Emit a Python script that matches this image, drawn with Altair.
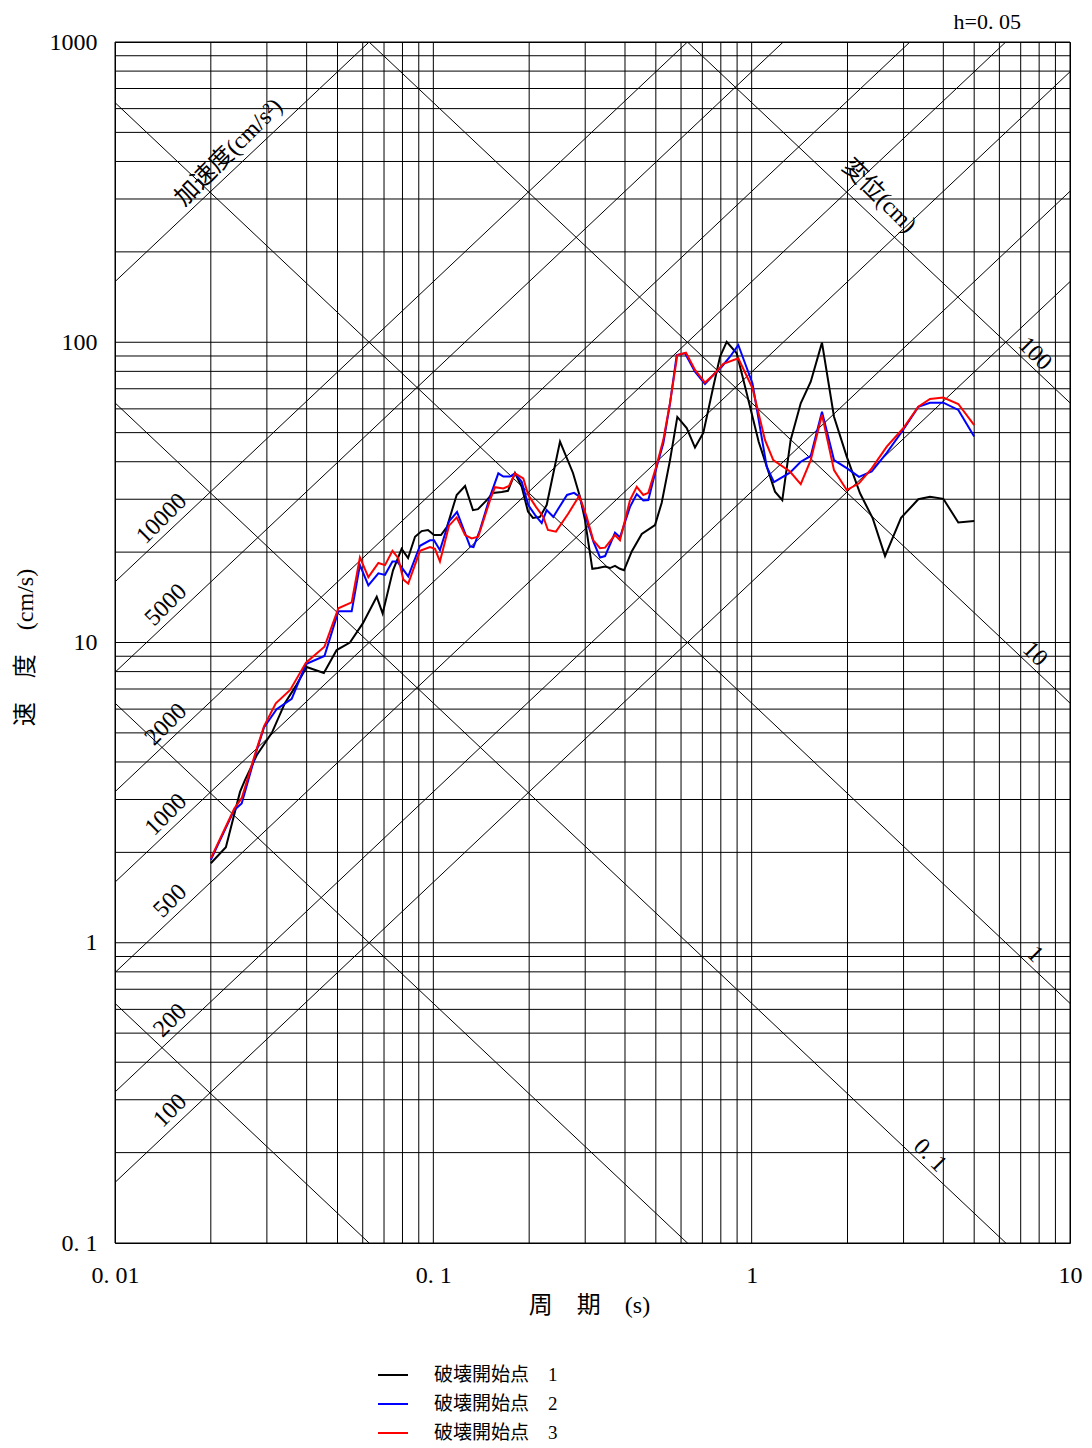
import math
import altair as alt
import pandas as pd

TWO_PI = 2 * math.pi
FONT = "Liberation Serif, Noto Sans CJK JP"

# ---------------- data ----------------
series_names = ["破壊開始点　1", "破壊開始点　2", "破壊開始点　3"]
series_colors = ["#000000", "#0000ff", "#ff0000"]

period_1 = [0.0200, 0.0223, 0.0247, 0.0256, 0.0279, 0.0311, 0.0342, 0.0370, 0.0400, 0.0453,
            0.0497, 0.0547, 0.0601, 0.0664, 0.0693, 0.0747, 0.0795, 0.0833, 0.0876, 0.0919,
            0.0962, 0.1005, 0.1057, 0.1104, 0.1184, 0.1258, 0.1332, 0.1381, 0.1472, 0.1539,
            0.1640, 0.1716, 0.1805, 0.1895, 0.1983, 0.2056, 0.2163, 0.2270, 0.2500, 0.2746,
            0.2888, 0.2995, 0.3158, 0.3291, 0.3463, 0.3589, 0.3721, 0.3858, 0.3972, 0.4200,
            0.4516, 0.4970, 0.5217, 0.5540, 0.5841, 0.6251, 0.6637, 0.7048, 0.7577, 0.7954,
            0.8348, 0.8975, 0.9647, 1.052, 1.184, 1.248, 1.326, 1.426, 1.533, 1.663,
            1.814, 1.989, 2.190, 2.401, 2.624, 2.946, 3.338, 3.633, 4.000, 4.458, 5.000]
velocity_1 = [1.84, 2.08, 3.18, 3.48, 4.22, 5.00, 6.29, 7.17, 8.29, 7.92,
              9.44, 10.0, 11.6, 14.2, 12.5, 17.4, 20.5, 19.1, 22.5, 23.5,
              23.7, 22.8, 22.8, 24.3, 31.0, 33.2, 27.6, 27.8, 29.8, 31.5,
              31.7, 32.0, 36.7, 33.0, 27.3, 26.0, 26.2, 28.7, 46.7, 36.7,
              30.6, 25.6, 17.6, 17.7, 17.9, 17.7, 18.0, 17.6, 17.4, 20.1,
              23.0, 24.6, 29.2, 40.5, 56.4, 51.8, 44.6, 49.9, 71.1, 89.5,
              100.4, 91.9, 67.6, 46.6, 31.8, 29.8, 47.3, 62.6, 73.9, 99.7,
              56.5, 41.6, 31.4, 25.9, 19.4, 26.0, 30.0, 30.6, 30.1, 25.1, 25.4]

period_2 = [0.0200, 0.0237, 0.0250, 0.0279, 0.0294, 0.0322, 0.0359, 0.0398, 0.0455, 0.0503,
            0.0554, 0.0588, 0.0625, 0.0672, 0.0705, 0.0744, 0.0771, 0.0834, 0.0908, 0.0976,
            0.1005, 0.1049, 0.1120, 0.1187, 0.1304, 0.1337, 0.1401, 0.1507, 0.1600, 0.1659,
            0.1741, 0.1805, 0.1895, 0.1987, 0.2086, 0.2190, 0.2270, 0.2381, 0.2500, 0.2630,
            0.2767, 0.2878, 0.3032, 0.3181, 0.3339, 0.3463, 0.3721, 0.3858, 0.4148, 0.4355,
            0.4567, 0.4735, 0.5031, 0.5278, 0.5540, 0.5815, 0.6175, 0.6637, 0.7135, 0.7577,
            0.8052, 0.8549, 0.9079, 1.006, 1.115, 1.175, 1.319, 1.426, 1.533, 1.663,
            1.814, 1.989, 2.174, 2.383, 2.657, 2.989, 3.338, 3.633, 4.000, 4.458, 5.000]
velocity_2 = [1.89, 2.77, 2.91, 4.39, 5.22, 6.00, 6.49, 8.48, 9.02, 12.7,
              12.7, 18.1, 15.5, 17.0, 16.8, 18.6, 18.6, 16.6, 21.0, 21.9,
              21.9, 20.3, 25.3, 27.2, 20.9, 20.8, 23.7, 30.6, 36.6, 35.7,
              35.7, 36.6, 34.3, 28.7, 26.6, 25.0, 27.6, 26.2, 28.5, 31.0,
              31.5, 30.6, 25.6, 21.7, 19.2, 19.4, 23.2, 22.4, 28.3, 31.2,
              29.7, 29.8, 38.5, 46.1, 62.6, 90.7, 91.9, 79.8, 72.6, 77.8,
              82.9, 89.5, 97.9, 72.9, 38.5, 34.2, 36.8, 40.0, 41.8, 58.7,
              40.5, 38.1, 35.6, 37.1, 42.8, 51.0, 60.9, 62.9, 62.9, 59.5, 48.5]

period_3 = [0.0200, 0.0237, 0.0250, 0.0279, 0.0294, 0.0320, 0.0355, 0.0398, 0.0455, 0.0503,
            0.0554, 0.0588, 0.0625, 0.0672, 0.0705, 0.0744, 0.0776, 0.0805, 0.0834, 0.0908,
            0.0976, 0.1012, 0.1049, 0.1120, 0.1184, 0.1258, 0.1319, 0.1384, 0.1507, 0.1562,
            0.1659, 0.1729, 0.1805, 0.1917, 0.1987, 0.2101, 0.2215, 0.2291, 0.2428, 0.2655,
            0.2874, 0.3032, 0.3181, 0.3339, 0.3463, 0.3721, 0.3858, 0.4148, 0.4355, 0.4567,
            0.4735, 0.5031, 0.5278, 0.5540, 0.5841, 0.6219, 0.6637, 0.7135, 0.7577, 0.8147,
            0.9079, 1.006, 1.101, 1.169, 1.319, 1.426, 1.533, 1.663, 1.814, 1.989,
            2.174, 2.383, 2.657, 2.993, 3.338, 3.633, 4.000, 4.458, 5.000]
velocity_3 = [1.91, 2.80, 3.03, 4.44, 5.27, 6.27, 6.95, 8.57, 9.68, 13.0,
              13.6, 19.2, 16.5, 18.4, 18.1, 20.2, 19.1, 16.2, 15.7, 20.2,
              20.8, 20.5, 18.6, 24.5, 26.1, 22.8, 22.2, 22.5, 29.8, 32.9,
              32.6, 33.2, 36.6, 35.2, 31.0, 28.3, 26.2, 23.7, 23.4, 26.9,
              30.8, 26.2, 21.9, 20.6, 20.7, 22.8, 21.9, 29.8, 33.0, 31.0,
              31.5, 39.0, 47.3, 62.8, 90.7, 92.3, 80.9, 73.4, 77.8, 84.7,
              88.4, 70.3, 47.3, 40.5, 37.1, 33.7, 40.5, 57.3, 37.5, 32.2,
              33.9, 38.0, 44.9, 51.7, 61.0, 64.7, 65.4, 62.3, 53.0]

# tripartite guide lines
accel_levels = [100, 200, 500, 1000, 2000, 5000, 10000, 100000]       # cm/s^2
accel_label_levels = [100, 200, 500, 1000, 2000, 5000, 10000]
accel_label_texts = ["100", "200", "500", "1000", "2000", "5000", "10000"]
disp_levels = [0.001, 0.01, 0.1, 1, 10, 100]                          # cm
disp_label_levels = [0.1, 1, 10, 100]
disp_label_texts = ["0. 1", "1", "10", "100"]
disp_label_periods = [3.63, 7.76, 7.76, 7.76]

accel_title = "加速度(cm/s²)"
disp_title = "変位(cm)"
damping_text = "h=0. 05"

x_tick_values = [0.01, 0.1, 1, 10]
x_tick_labels = ["0. 01", "0. 1", "1", "10"]
y_tick_values = [0.1, 1, 10, 100, 1000]
y_tick_labels = ["0. 1", "1", "10", "100", "1000"]

x_grid = [m * 10.0 ** e for e in (-2, -1, 0) for m in range(1, 10)] + [10.0]
y_grid = [m * 10.0 ** e for e in (-1, 0, 1, 2) for m in range(1, 10)] + [1000.0]

# ---------------- helpers ----------------
def label_expr(vals, labs):
    e = "''"
    for v, l in reversed(list(zip(vals, labs))):
        e = f"abs(datum.value - {v}) < {v * 1e-3} ? '{l}' : ({e})"
    return e

x_scale = alt.Scale(type="log", domain=[0.01, 10])
y_scale = alt.Scale(type="log", domain=[0.1, 1000])

x_axis = alt.Axis(values=x_tick_values, labelExpr=label_expr(x_tick_values, x_tick_labels),
                  grid=False, ticks=False, domain=False, labelPadding=20, labelFontSize=24,
                  labelFont=FONT, labelColor="black", labelFlush=False, labelOverlap=False,
                  title="周　期　(s)", titleFont=FONT, titleFontSize=24, titleFontWeight="normal",
                  titleColor="black", titleX=474, titleY=62, titleAlign="center",
                  titleBaseline="middle", titleAngle=0)
y_axis = alt.Axis(values=y_tick_values, labelExpr=label_expr(y_tick_values, y_tick_labels),
                  grid=False, ticks=False, domain=False, labelPadding=18, labelFontSize=24,
                  labelFont=FONT, labelColor="black", labelFlush=False, labelOverlap=False,
                  labelBaseline="middle",
                  title="速　度　(cm/s)", titleFont=FONT, titleFontSize=24, titleFontWeight="normal",
                  titleColor="black", titleX=-90, titleY=605, titleAlign="center",
                  titleBaseline="middle", titleAngle=270)

X = alt.X("T:Q", scale=x_scale, axis=x_axis)
Y = alt.Y("V:Q", scale=y_scale, axis=y_axis)

# ---------------- layers ----------------
vgrid = alt.Chart(pd.DataFrame({"T": x_grid})).mark_rule(color="black", strokeWidth=1).encode(x=X)
hgrid = alt.Chart(pd.DataFrame({"V": y_grid})).mark_rule(color="black", strokeWidth=1).encode(y=Y)

diag_rows = []
for a in accel_levels:
    for t in (0.001, 100.0):
        diag_rows.append({"key": f"a{a}", "T": t, "V": a * t / TWO_PI})
for d in disp_levels:
    for t in (0.001, 100.0):
        diag_rows.append({"key": f"d{d}", "T": t, "V": TWO_PI * d / t})
diag = alt.Chart(pd.DataFrame(diag_rows)).mark_line(
    color="black", strokeWidth=1, clip=True).encode(x=X, y=Y, detail="key:N")

ACC_LABEL_T = 0.01636
ACC_OFFSET = 1.166
acc_lab_df = pd.DataFrame({
    "T": [ACC_LABEL_T] * len(accel_label_levels),
    "V": [a * ACC_LABEL_T / TWO_PI * ACC_OFFSET for a in accel_label_levels],
    "text": accel_label_texts,
})
acc_labels = alt.Chart(acc_lab_df).mark_text(
    angle=315, align="right", baseline="middle", fontSize=24, font=FONT, color="black"
).encode(x=X, y=Y, text="text:N")

DISP_OFFSET = 1.13
disp_lab_df = pd.DataFrame({
    "T": disp_label_periods,
    "V": [TWO_PI * d / t * DISP_OFFSET for d, t in zip(disp_label_levels, disp_label_periods)],
    "text": disp_label_texts,
})
disp_labels = alt.Chart(disp_lab_df).mark_text(
    angle=45, align="center", baseline="middle", fontSize=24, font=FONT, color="black"
).encode(x=X, y=Y, text="text:N")

acc_t = 0.0228
acc_title_df = pd.DataFrame({"T": [acc_t], "V": [100000 * acc_t / TWO_PI * 1.18], "text": [accel_title]})
acc_title_layer = alt.Chart(acc_title_df).mark_text(
    angle=315, align="center", baseline="middle", fontSize=24, font=FONT, color="black"
).encode(x=X, y=Y, text="text:N")

disp_t = 2.512
disp_title_df = pd.DataFrame({"T": [disp_t], "V": [TWO_PI * 100 / disp_t * 1.227], "text": [disp_title]})
disp_title_layer = alt.Chart(disp_title_df).mark_text(
    angle=45, align="center", baseline="middle", fontSize=24, font=FONT, color="black"
).encode(x=X, y=Y, text="text:N")

frames = []
for name, ts, vs in zip(series_names, [period_1, period_2, period_3],
                        [velocity_1, velocity_2, velocity_3]):
    frames.append(pd.DataFrame({"series": name, "T": ts, "V": vs, "idx": range(len(ts))}))
series_df = pd.concat(frames, ignore_index=True)

series = alt.Chart(series_df).mark_line(strokeWidth=2, clip=True).encode(
    x=X, y=Y,
    order="idx:Q",
    color=alt.Color("series:N",
                    scale=alt.Scale(domain=series_names, range=series_colors),
                    legend=alt.Legend(orient="none", legendX=262, legendY=1317, title=None,
                                      symbolType="stroke", symbolSize=900, symbolStrokeWidth=2,
                                      labelFont=FONT, labelFontSize=19, labelColor="black",
                                      labelOffset=25, rowPadding=3, padding=0,
                                      direction="vertical", labelLimit=0)),
)

h_label = alt.Chart(pd.DataFrame({"t": [damping_text]})).mark_text(
    align="right", baseline="middle", fontSize=22, font=FONT, color="black"
).encode(x=alt.value(906), y=alt.value(-20), text="t:N")

chart = alt.layer(
    vgrid, hgrid, diag, acc_labels, disp_labels, acc_title_layer, disp_title_layer, series, h_label
).properties(
    width=955, height=1201,
    autosize=alt.AutoSizeParams(type="none"),
    padding={"left": 107, "top": 34, "right": 14, "bottom": 203},
).configure(font=FONT).configure_view(stroke="black", strokeWidth=1)

chart.save("out.html", embed_options={"renderer": "svg", "actions": False})
